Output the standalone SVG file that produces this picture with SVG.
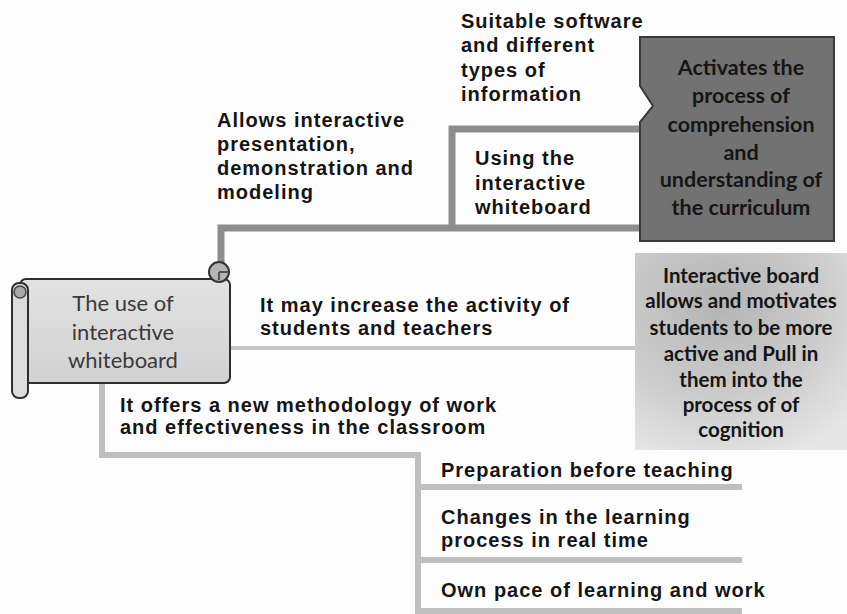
<svg xmlns="http://www.w3.org/2000/svg" width="847" height="614" viewBox="0 0 847 614">
<defs>
<radialGradient id="gLight" cx="0.4" cy="0.25" r="0.85">
<stop offset="0" stop-color="#b4b4b4"/>
<stop offset="0.6" stop-color="#cdcdcd"/>
<stop offset="1" stop-color="#e6e6e6"/>
</radialGradient>
<linearGradient id="gScroll" x1="0" y1="0" x2="0" y2="1">
<stop offset="0" stop-color="#e2e2e2"/>
<stop offset="1" stop-color="#d2d2d2"/>
</linearGradient>
<style>
.lbl{font-family:"Liberation Sans",Arial,sans-serif;font-weight:bold;font-size:20px;letter-spacing:1px;fill:#151515}
.cal{font-family:Lato,"Open Sans",sans-serif;font-weight:bold;fill:#151515;text-anchor:middle}
.scr{font-family:Lato,"Open Sans",sans-serif;font-size:22px;fill:#3a3a3a;text-anchor:middle}
.c1{fill:none;stroke:#8d8d8d;stroke-width:7}
.c2{fill:none;stroke:#c6c6c6;stroke-width:4}
.c3{fill:none;stroke:#bfbfbf;stroke-width:6}
</style>
</defs>
<rect width="847" height="614" fill="#fdfdfd"/>

<g id="connectors">
<path class="c1" d="M221,268 V228 H642"/>
<path class="c1" d="M452,228 V129 H642"/>
<path class="c2" d="M230,348 H636"/>
<path class="c3" d="M102,384 V455 H418 V614"/>
<path class="c3" d="M418,487 H742"/>
<path class="c3" d="M418,560 H742"/>
<path class="c3" d="M418,611 H742"/>
</g>

<g id="scroll-node">
<rect x="20" y="279" width="210" height="104" rx="6" fill="url(#gScroll)" stroke="#2e2e2e" stroke-width="2"/>
<circle cx="219" cy="272" r="10" fill="#b4b4b4" stroke="#333" stroke-width="2"/>
<path d="M219,272 h9 M219,272 v8" stroke="#555" stroke-width="2" fill="none"/>
<rect x="12" y="283" width="16" height="115" rx="7" fill="#dcdcdc" stroke="#2e2e2e" stroke-width="2"/>
<circle cx="20" cy="292" r="6" fill="#a8a8a8" stroke="#444" stroke-width="1.5"/>
<text class="scr" x="123" y="311">The use of</text>
<text class="scr" x="123" y="340">interactive</text>
<text class="scr" x="123" y="368">whiteboard</text>
</g>

<g id="suitable-software">
<text class="lbl" x="461" y="28">Suitable software</text>
<text class="lbl" x="461" y="52">and different</text>
<text class="lbl" x="461" y="77">types of</text>
<text class="lbl" x="461" y="101">information</text>
</g>

<g id="allows-interactive">
<text class="lbl" x="217" y="127">Allows interactive</text>
<text class="lbl" x="217" y="151">presentation,</text>
<text class="lbl" x="217" y="175">demonstration and</text>
<text class="lbl" x="217" y="199">modeling</text>
</g>

<g id="using-whiteboard">
<text class="lbl" x="475" y="165">Using the</text>
<text class="lbl" x="475" y="190">interactive</text>
<text class="lbl" x="475" y="214">whiteboard</text>
</g>

<g id="activates">
<path d="M640,37 H834 V241 H640 V122 L653,106 L640,86 Z" fill="#727272" stroke="#3a3a3a" stroke-width="2"/>
<g class="cal" font-size="21.5">
<text x="741" y="75">Activates the</text>
<text x="741" y="103">process of</text>
<text x="741" y="132">comprehension</text>
<text x="741" y="160">and</text>
<text x="741" y="187">understanding of</text>
<text x="741" y="215">the curriculum</text>
</g>
</g>

<g id="may-increase">
<text class="lbl" x="260" y="312">It may increase the activity of</text>
<text class="lbl" x="260" y="335">students and teachers</text>
</g>

<g id="interactive-board">
<rect x="635" y="253" width="212" height="197" fill="url(#gLight)"/>
<g class="cal" font-size="20.5">
<text x="741" y="283">Interactive board</text>
<text x="741" y="308">allows and motivates</text>
<text x="741" y="335">students to be more</text>
<text x="741" y="361">active and Pull in</text>
<text x="741" y="387">them into the</text>
<text x="741" y="412">process of of</text>
<text x="741" y="437">cognition</text>
</g>
</g>

<g id="new-methodology">
<text class="lbl" x="120" y="412">It offers a new methodology of work</text>
<text class="lbl" x="120" y="434">and effectiveness in the classroom</text>
</g>

<g id="preparation">
<text class="lbl" x="441" y="477">Preparation before teaching</text>
</g>
<g id="changes">
<text class="lbl" x="441" y="524">Changes in the learning</text>
<text class="lbl" x="441" y="547">process in real time</text>
</g>
<g id="own-pace">
<text class="lbl" x="441" y="597">Own pace of learning and work</text>
</g>
</svg>
